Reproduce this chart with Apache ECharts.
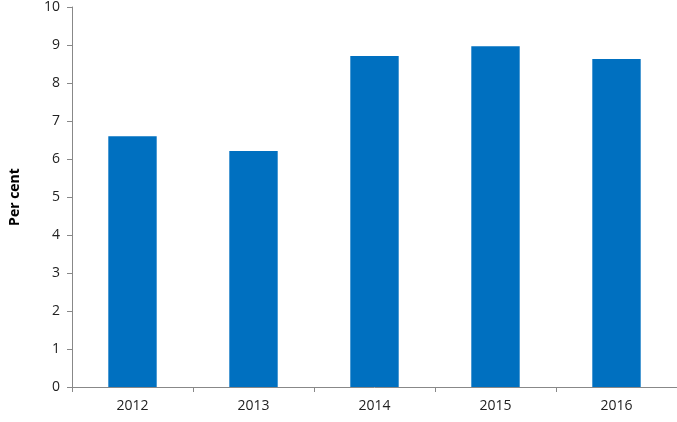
<!DOCTYPE html>
<html><head><meta charset="utf-8">
<script src="https://cdn.jsdelivr.net/npm/echarts@6/dist/echarts.min.js"></script>
<style>html,body{margin:0;padding:0;background:#fff}#c{width:677px;height:422px}</style>
</head><body><div id="c"></div>
<script>
const categories = ['2012','2013','2014','2015','2016'];
const values = [6.6, 6.21, 8.71, 8.97, 8.63];
const yLabel = 'Per cent';
const chart = echarts.init(document.getElementById('c'));
chart.setOption({
  animation:false,
  grid:{left:66,right:0,top:7,bottom:35,containLabel:false},
  xAxis:{type:'category',data:categories,
    axisLine:{lineStyle:{color:'#888'}},
    axisTick:{show:true,alignWithLabel:false,length:5,lineStyle:{color:'#888'}},
    axisLabel:{color:'#222',fontSize:14,fontFamily:'Open Sans',margin:12}},
  yAxis:{type:'value',min:0,max:10,interval:1,name:yLabel,nameLocation:'middle',nameGap:50,
    nameTextStyle:{fontWeight:'bold',fontSize:14,color:'#000',fontFamily:'Open Sans'},
    axisLine:{show:true,lineStyle:{color:'#888'}},
    axisTick:{show:true,length:5,lineStyle:{color:'#888'}},
    splitLine:{show:false},
    axisLabel:{color:'#222',fontSize:14,fontFamily:'Open Sans',margin:12}},
  series:[{type:'bar',data:values,barWidth:'40%',itemStyle:{color:'#0070C0'}}]
});
</script></body></html>
